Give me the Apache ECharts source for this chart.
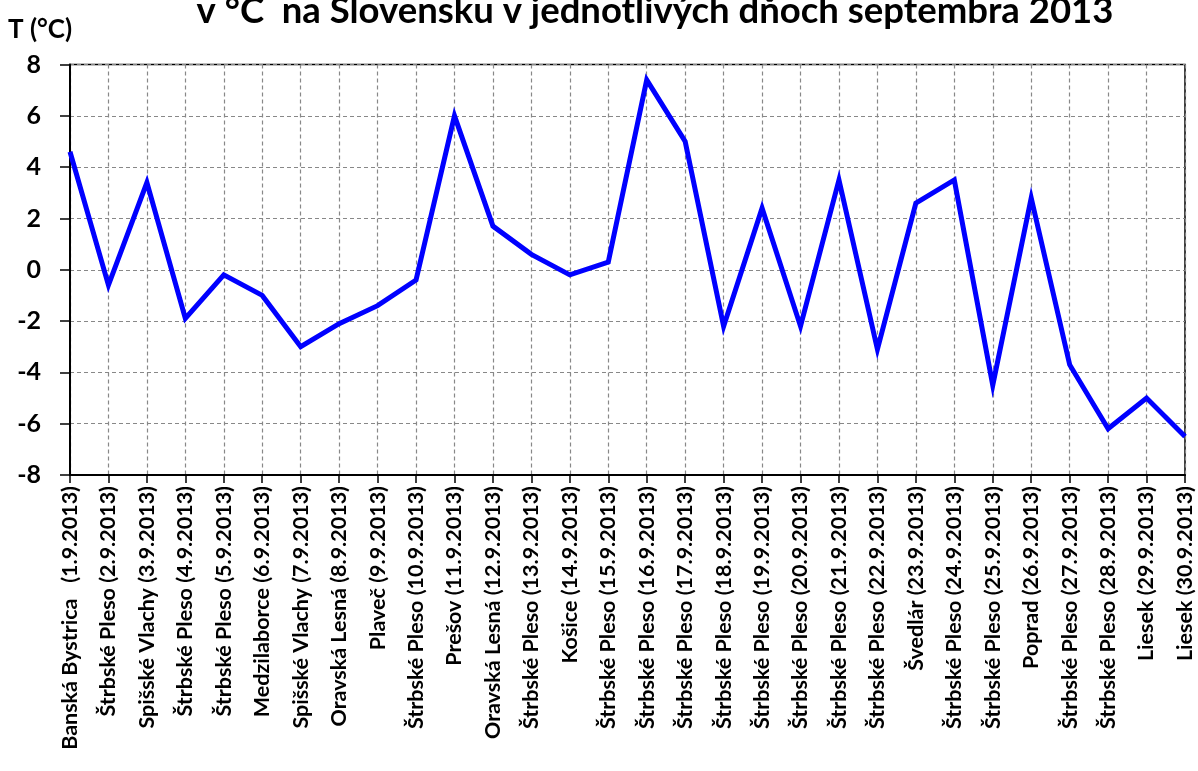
<!DOCTYPE html>
<html>
<head>
<meta charset="utf-8">
<script src="https://cdn.jsdelivr.net/npm/echarts@6/dist/echarts.min.js"></script>
<style>
html,body{margin:0;padding:0;background:#fff;}
#chart{width:1198px;height:771px;}
</style>
</head>
<body>
<div id="chart"></div>
<script>
const titleText = 'v °C  na Slovensku v jednotlivých dňoch septembra 2013';
const yAxisName = 'T (°C)';
const categories = [
  'Banská Bystrica   (1.9.2013)',
  'Štrbské Pleso (2.9.2013)',
  'Spišské Vlachy (3.9.2013)',
  'Štrbské Pleso (4.9.2013)',
  'Štrbské Pleso (5.9.2013)',
  'Medzilaborce (6.9.2013)',
  'Spišské Vlachy (7.9.2013)',
  'Oravská Lesná (8.9.2013)',
  'Plaveč (9.9.2013)',
  'Štrbské Pleso (10.9.2013)',
  'Prešov (11.9.2013)',
  'Oravská Lesná (12.9.2013)',
  'Štrbské Pleso (13.9.2013)',
  'Košice (14.9.2013)',
  'Štrbské Pleso (15.9.2013)',
  'Štrbské Pleso (16.9.2013)',
  'Štrbské Pleso (17.9.2013)',
  'Štrbské Pleso (18.9.2013)',
  'Štrbské Pleso (19.9.2013)',
  'Štrbské Pleso (20.9.2013)',
  'Štrbské Pleso (21.9.2013)',
  'Štrbské Pleso (22.9.2013)',
  'Švedlár (23.9.2013)',
  'Štrbské Pleso (24.9.2013)',
  'Štrbské Pleso (25.9.2013)',
  'Poprad (26.9.2013)',
  'Štrbské Pleso (27.9.2013)',
  'Štrbské Pleso (28.9.2013)',
  'Liesek (29.9.2013)',
  'Liesek (30.9.2013)'
];
const temperatures = [4.6, -0.6, 3.4, -1.9, -0.2, -1.0, -3.0, -2.1, -1.4, -0.4,
  6.0, 1.7, 0.6, -0.2, 0.3, 7.4, 5.0, -2.2, 2.4, -2.2,
  3.5, -3.1, 2.6, 3.5, -4.5, 2.8, -3.7, -6.2, -5.0, -6.5];
const yMin = -8, yMax = 8, yStep = 2;

const FONT = 'Lato';
const chart = echarts.init(document.getElementById('chart'), null, {renderer:'canvas'});
chart.setOption({
  animation: false,
  backgroundColor: '#fff',
  title: {
    text: titleText,
    left: 650, textAlign: 'center',
    top: -12,
    textStyle: {fontFamily: FONT, fontWeight: 'bold', fontSize: 36.5, color: '#000'}
  },
  grid: {
    left: 70, right: 13, top: 64.5, bottom: 296,
    show: true, borderColor: '#000', borderWidth: 1.5, backgroundColor: 'transparent'
  },
  xAxis: {
    type: 'category',
    data: categories,
    boundaryGap: false,
    axisLine: {show: true, onZero: false, lineStyle: {color: '#000', width: 2}},
    axisTick: {show: true, alignWithLabel: true, length: 8, lineStyle: {color: '#000', width: 1.5}},
    axisLabel: {
      interval: 0, rotate: 90, margin: 11,
      fontFamily: FONT, fontWeight: 'bold', fontSize: 21.5, color: '#000'
    },
    splitLine: {show: true, lineStyle: {color: '#888', type: [4, 3], width: 1.2}}
  },
  yAxis: {
    type: 'value',
    min: yMin, max: yMax, interval: yStep,
    name: yAxisName,
    nameLocation: 'end',
    nameGap: 22,
    nameTextStyle: {fontFamily: FONT, fontWeight: 'bold', fontSize: 26, color: '#000', align: 'left', padding: [0, 0, 0, -62]},
    axisLine: {show: true, lineStyle: {color: '#000', width: 2}},
    axisTick: {show: true, length: 10, inside: false, lineStyle: {color: '#000', width: 1.5}},
    axisLabel: {fontFamily: FONT, fontWeight: 'bold', fontSize: 25, color: '#000', margin: 29},
    splitLine: {show: true, lineStyle: {color: '#888', type: [4, 3], width: 1.2}}
  },
  series: [{
    type: 'line',
    data: temperatures,
    showSymbol: false,
    symbol: 'none',
    lineStyle: {color: '#0000FF', width: 5, join: 'miter'},
    itemStyle: {color: '#0000FF'}
  }]
});
</script>
</body>
</html>
